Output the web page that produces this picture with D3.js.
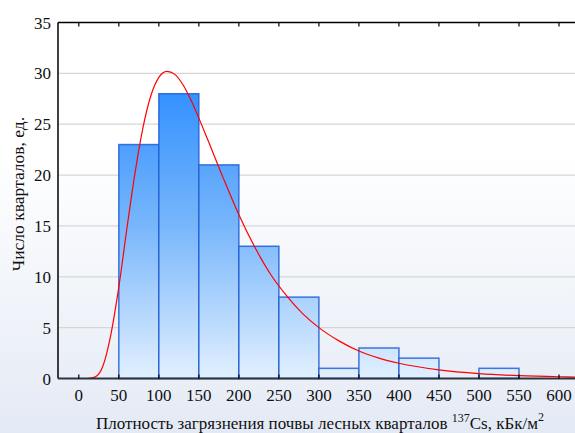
<!DOCTYPE html>
<html>
<head>
<meta charset="utf-8">
<script src="https://cdn.jsdelivr.net/npm/d3@7"></script>
<style>
  body { margin: 0; }
  svg { display: block; font-family: "Liberation Serif", "Times New Roman", serif; }
</style>
</head>
<body>
<script>
// histogram bins (kBq/m2) and counts
var binStarts = [50, 100, 150, 200, 250, 300, 350, 400, 450, 500];
var binCounts = [23, 28, 21, 13, 8, 1, 3, 2, 0, 1];
var binWidth = 50;

// fitted curve
var curveX = [-26, 0, 10, 20, 30, 40, 50, 60, 70, 80, 90, 100, 110, 120, 130, 140, 150, 160, 180, 200, 220, 240, 260, 280, 300, 325, 350, 375, 400, 450, 500, 550, 600, 620];
var curveY = [0, 0, 0, 0.13, 1.2, 4.3, 9.0, 14.7, 20.1, 24.6, 27.8, 29.6, 30.2, 29.9, 28.9, 27.4, 25.6, 23.7, 19.8, 16.1, 12.9, 10.2, 8.1, 6.35, 5.0, 3.7, 2.7, 2.0, 1.5, 0.85, 0.48, 0.28, 0.17, 0.14];

var xTicks = [0, 50, 100, 150, 200, 250, 300, 350, 400, 450, 500, 550, 600];
var yTicks = [0, 5, 10, 15, 20, 25, 30, 35];

var W = 575, H = 433;
var svg = d3.select("body").append("svg").attr("width", W).attr("height", H);

var defs = svg.append("defs");
var bg = defs.append("linearGradient").attr("id", "bg").attr("x1", 0).attr("y1", 0).attr("x2", 0).attr("y2", 1);
bg.append("stop").attr("offset", "0.35").attr("stop-color", "#ffffff");
bg.append("stop").attr("offset", "1").attr("stop-color", "#e4eaf5");

var x = d3.scaleLinear().domain([-26, 620]).range([58, 575]);
var y = d3.scaleLinear().domain([0, 35]).range([378.5, 22.5]);

var barGrad = defs.append("linearGradient").attr("id", "barg")
  .attr("gradientUnits", "userSpaceOnUse")
  .attr("x1", 0).attr("y1", y(30)).attr("x2", 0).attr("y2", y(0));
barGrad.append("stop").attr("offset", "0").attr("stop-color", "#2a8cff");
barGrad.append("stop").attr("offset", "0.5").attr("stop-color", "#78b6fb");
barGrad.append("stop").attr("offset", "1").attr("stop-color", "#e2f0ff");

svg.append("rect").attr("width", W).attr("height", H).attr("fill", "url(#bg)");

// gridlines
svg.selectAll(".grid").data(yTicks.filter(d => d > 0 && d < 35)).enter()
  .append("line")
  .attr("x1", x(-26)).attr("x2", W)
  .attr("y1", d => y(d)).attr("y2", d => y(d))
  .attr("stroke", "#d6d6d6").attr("stroke-width", 1.2);

// bars
svg.selectAll(".bar").data(binStarts.map((s, i) => ({s: s, c: binCounts[i]})).filter(d => d.c > 0))
  .enter().append("rect")
  .attr("x", d => x(d.s))
  .attr("y", d => y(d.c))
  .attr("width", d => x(d.s + binWidth) - x(d.s))
  .attr("height", d => y(0) - y(d.c))
  .attr("fill", "url(#barg)")
  .attr("stroke", "#1f5fd6")
  .attr("stroke-opacity", 0.85)
  .attr("stroke-width", 1.5);

// fitted curve
var line = d3.line().x((d, i) => x(curveX[i])).y(d => y(d)).curve(d3.curveMonotoneX);
svg.append("path").datum(curveY)
  .attr("d", line)
  .attr("fill", "none")
  .attr("stroke", "#ff0000")
  .attr("stroke-width", 1.2);

// frame: left, top, bottom
svg.append("line").attr("x1", x(-26)).attr("x2", x(-26)).attr("y1", y(35)).attr("y2", y(0))
  .attr("stroke", "#000").attr("stroke-width", 1.5);
svg.append("line").attr("x1", x(-26)).attr("x2", W).attr("y1", y(35)).attr("y2", y(35))
  .attr("stroke", "#000").attr("stroke-width", 1.5);
svg.append("line").attr("x1", x(-26)).attr("x2", W).attr("y1", y(0)).attr("y2", y(0))
  .attr("stroke", "#2b3440").attr("stroke-width", 2);

// ticks on top and bottom
svg.selectAll(".ttick").data(xTicks).enter().append("line")
  .attr("x1", d => x(d)).attr("x2", d => x(d))
  .attr("y1", y(35)).attr("y2", y(35) + 4)
  .attr("stroke", "#000").attr("stroke-width", 1.2);
svg.selectAll(".btick").data(xTicks).enter().append("line")
  .attr("x1", d => x(d)).attr("x2", d => x(d))
  .attr("y1", y(0)).attr("y2", y(0) - 4)
  .attr("stroke", "#000").attr("stroke-width", 1.2);

// tick labels
svg.selectAll(".xl").data(xTicks).enter().append("text")
  .attr("x", d => x(d)).attr("y", 400.5)
  .attr("text-anchor", "middle")
  .attr("font-size", 17)
  .attr("fill", "#111")
  .text(d => d);
svg.selectAll(".yl").data(yTicks).enter().append("text")
  .attr("x", 51).attr("y", d => y(d) + 6)
  .attr("text-anchor", "end")
  .attr("font-size", 17)
  .attr("fill", "#111")
  .text(d => d);

// axis titles
svg.append("text")
  .attr("transform", "translate(24,194) rotate(-90)")
  .attr("text-anchor", "middle")
  .attr("font-size", 17.5)
  .attr("fill", "#111")
  .text("Число кварталов, ед.");

var xt = svg.append("text")
  .attr("x", 320).attr("y", 428.5)
  .attr("text-anchor", "middle")
  .attr("font-size", 17)
  .attr("fill", "#111");
xt.append("tspan").text("Плотность загрязнения почвы лесных кварталов ");
xt.append("tspan").attr("font-size", 12).attr("dy", -7).text("137");
xt.append("tspan").attr("dy", 7).text("Cs, кБк/м");
xt.append("tspan").attr("font-size", 12).attr("dy", -8).text("2");
</script>
</body>
</html>
